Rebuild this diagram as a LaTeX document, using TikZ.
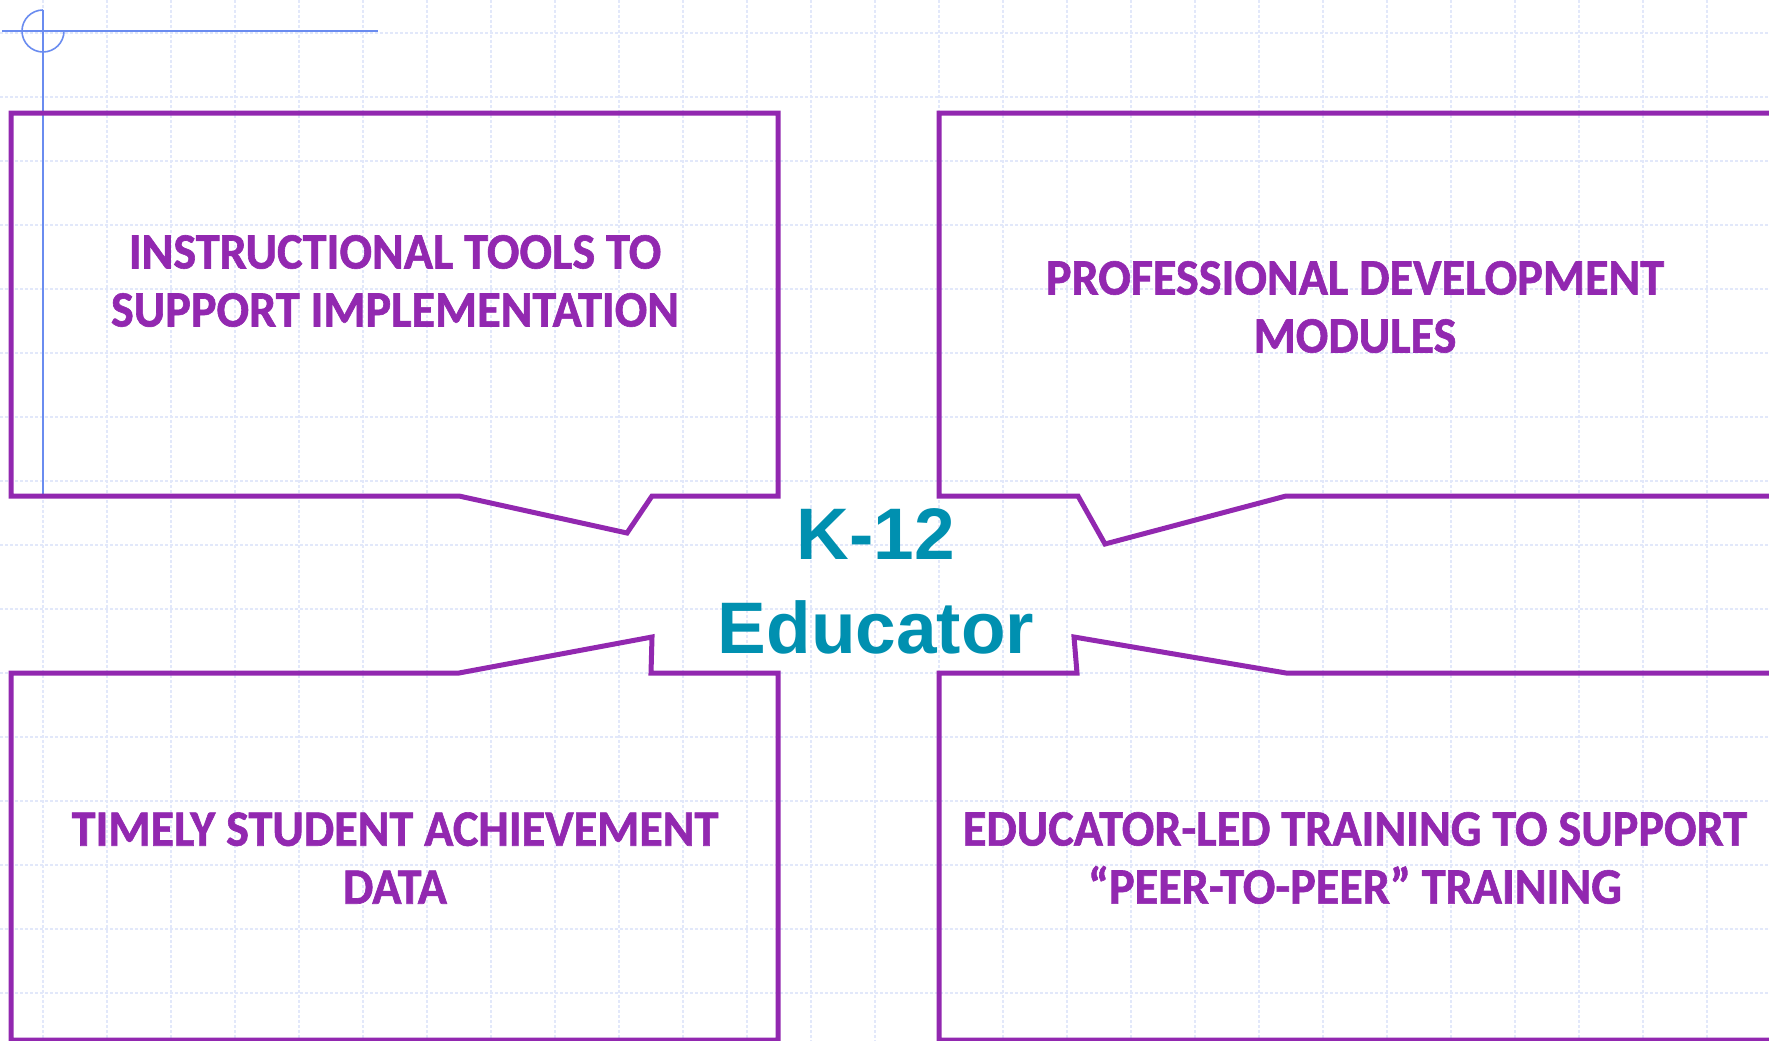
\documentclass[tikz,border=0pt]{standalone}
\usepackage{fontspec}
\setmainfont{Carlito}
\newfontfamily\boxfont[FakeStretch=0.945,BoldFont={Carlito Bold},
  BoldFeatures={FakeBold=1.2}]{Carlito}
\newfontfamily\headfont{Liberation Sans}
\definecolor{calloutpurple}{HTML}{9228B0}
\definecolor{centerteal}{HTML}{0090B0}
\definecolor{gridblue}{HTML}{E2E8FA}
\definecolor{guideblue}{HTML}{6A8CF0}
\tikzset{
  callout/.style={draw=calloutpurple,line width=5pt,line join=miter},
  boxtext/.style={text=calloutpurple,align=center,inner sep=0pt,
    font=\boxfont\fontsize{51}{58}\selectfont\bfseries},
  gridline/.style={gridblue,line width=1.1pt,dash pattern=on 3pt off 2pt},
  guide/.style={guideblue,line width=1.6pt}
}

\begin{document}
\begin{tikzpicture}[x=1pt,y=-1pt]
    \useasboundingbox (0,0) rectangle (1769,1041);
    \clip (0,0) rectangle (1769,1041);
    \fill[white] (0,0) rectangle (1769,1041);
    % background grid
    \foreach \gx in {43,107,...,1769} \draw[gridline] (\gx,0) -- (\gx,1041);
    \foreach \gy in {33,97,...,1041} \draw[gridline] (0,\gy) -- (1769,\gy);
    % guides
    \draw[guide] (2,31) -- (378,31);
    \draw[guide] (43,10) -- (43,496);
    \draw[guide] (43,10) arc[start angle=90,end angle=360,radius=21pt];
    % callouts
    \draw[callout] (11,113) -- (778,113) -- (778,496) -- (652,496) -- (627,533)
      -- (459,496) -- (11,496) -- cycle;
    \draw[callout] (939,113) -- (1800,113) -- (1800,496) -- (1286,496) -- (1105,544)
      -- (1078,496) -- (939,496) -- cycle;
    \draw[callout] (11,673) -- (459,673) -- (652,637) -- (651,673) -- (778,673)
      -- (778,1040) -- (11,1040) -- cycle;
    \draw[callout] (939,673) -- (1077,673) -- (1074,637) -- (1286,673) -- (1800,673)
      -- (1800,1040) -- (939,1040) -- cycle;
    \node[boxtext] (tools) at (395,281) {INSTRUCTIONAL TOOLS TO\\SUPPORT IMPLEMENTATION};
    \node[boxtext] (modules) at (1355,307) {PROFESSIONAL DEVELOPMENT\\MODULES};
    \node[boxtext] (data) at (395,858) {TIMELY STUDENT ACHIEVEMENT\\DATA};
    \node[boxtext] (training) at (1355,858) {EDUCATOR-LED TRAINING TO SUPPORT\\“PEER-TO-PEER” TRAINING};
    \node[text=centerteal,align=center,inner sep=0pt,
      font=\headfont\fontsize{73}{94}\selectfont\bfseries] (educator) at (876,581) {K-12\\Educator};
  \end{tikzpicture}
\end{document}
